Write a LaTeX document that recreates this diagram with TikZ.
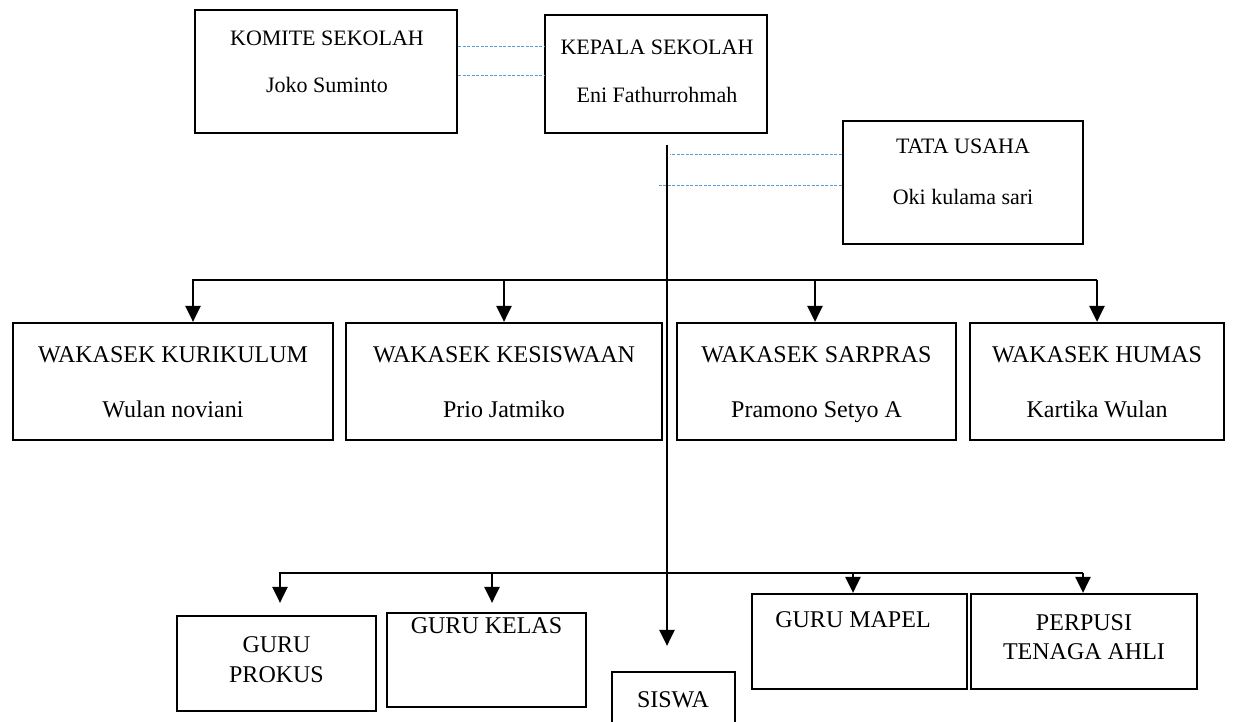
\documentclass[tikz,border=0pt]{standalone}
\usepackage{fontspec}
\setmainfont{Liberation Serif}
\usetikzlibrary{arrows.meta,calc}
\definecolor{linkblue}{RGB}{91,155,213}
\tikzset{
	box/.style={draw, line width=2.2pt, inner sep=0pt},
	txt/.style={align=center, inner sep=0pt, font=\fontsize{22}{26}\selectfont},
	txtbig/.style={align=center, inner sep=0pt, font=\fontsize{24}{29}\selectfont},
	arr/.style={line width=2.5pt, -{Triangle[width=15pt,length=16pt]}},
	link/.style={linkblue, line width=1pt, dash pattern=on 3pt off 1.5pt}
}
\begin{document}
\begin{tikzpicture}[x=1pt, y=-1pt]
	\useasboundingbox (0,0) rectangle (1234,722);

	% pimpinan
	\node[box, minimum width=262pt, minimum height=123pt] (komite) at (326,71.5) {};
	\node[box, minimum width=222pt, minimum height=118pt] (kepala) at (656,74) {};
	\node[box, minimum width=240pt, minimum height=123pt] (tatausaha) at (963,182.5) {};
	\node[txt] (komiteT) at (327,61.5) {KOMITE SEKOLAH\\[21pt]Joko Suminto};
	\node[txt] (kepalaT) at (657,71) {KEPALA SEKOLAH\\[22pt]Eni Fathurrohmah};
	\node[txt] (tatausahaT) at (963,171.5) {TATA USAHA\\[25pt]Oki kulama sari};

	% wakasek
	\node[box, minimum width=320pt, minimum height=117pt] (kurikulum) at (173,381.5) {};
	\node[box, minimum width=316pt, minimum height=117pt] (kesiswaan) at (504,381.5) {};
	\node[box, minimum width=279pt, minimum height=117pt] (sarpras) at (816.5,381.5) {};
	\node[box, minimum width=254pt, minimum height=117pt] (humas) at (1097,381.5) {};
	\node[txtbig] (kurikulumT) at (173,382.5) {WAKASEK KURIKULUM\\[26pt]Wulan noviani};
	\node[txtbig] (kesiswaanT) at (504,382.5) {WAKASEK KESISWAAN\\[26pt]Prio Jatmiko};
	\node[txtbig] (sarprasT) at (816.5,384.5) {WAKASEK SARPRAS\\[26pt]Pramono Setyo A};
	\node[txtbig] (humasT) at (1097,382.5) {WAKASEK HUMAS\\[26pt]Kartika Wulan};

	% guru, siswa
	\node[box, minimum width=199pt, minimum height=95pt] (prokus) at (276.5,663.5) {};
	\node[box, minimum width=199pt, minimum height=94pt] (kelas) at (486.5,660) {};
	\node[box, minimum width=123pt, minimum height=60pt] (siswa) at (673.5,702) {};
	\node[box, minimum width=215pt, minimum height=95pt] (mapel) at (859.5,641.5) {};
	\node[box, minimum width=226pt, minimum height=95pt] (perpusi) at (1084,641.5) {};
	\node[txtbig] (prokusT) at (276.5,660) {GURU\\[1pt]PROKUS};
	\node[txtbig] (kelasT) at (486.5,626) {GURU KELAS};
	\node[txtbig] (siswaT) at (673,700) {SISWA};
	\node[txtbig] (mapelT) at (853,620) {GURU MAPEL};
	\node[txtbig] (perpusiT) at (1084,637.5) {PERPUSI\\TENAGA AHLI};

	% garis koordinasi
	\coordinate (k1) at ([yshift=24.5pt]komite.east);
	\coordinate (k2) at ([yshift=-4.5pt]komite.east);
	\draw[link] (k1) -- (k1 -| kepala.west);
	\draw[link] (k2) -- (k2 -| kepala.west);

	\coordinate (trunk) at (667,145);
	\coordinate (t1) at ([yshift=27.5pt]tatausaha.west);
	\coordinate (t2) at ([yshift=-3.5pt]tatausaha.west);
	\draw[link] (t1) -- ([xshift=3pt]t1 -| trunk);
	\draw[link] (t2) -- ([xshift=-9pt]t2 -| trunk);

	% garis komando
	\draw[arr, shorten >=25pt] (trunk) -- (trunk |- siswa.north);

	\coordinate (busL) at (193,280);
	\coordinate (busR) at (1097,280);
	\draw[arr] (busR) -- (busL) -- (busL |- kurikulum.north);
	\draw[arr] (kesiswaan.north |- busL) -- (kesiswaan.north);
	\draw[arr] ([xshift=-1.5pt]sarpras.north |- busL) -- ([xshift=-1.5pt]sarpras.north);
	\draw[arr] (busR) -- (busR |- humas.north);

	\coordinate (lowL) at (280,573);
	\coordinate (lowR) at (1083,573);
	\draw[arr, shorten >=12pt] (lowR) -- (lowL) -- (lowL |- prokus.north);
	\draw[arr, shorten >=9pt] ([xshift=5.5pt]kelas.north |- lowL) -- ([xshift=5.5pt]kelas.north);
	\draw[arr] ([xshift=-6.5pt]mapel.north |- lowL) -- ([xshift=-6.5pt]mapel.north);
	\draw[arr] (lowR) -- (lowR |- perpusi.north);
\end{tikzpicture}
\end{document}
